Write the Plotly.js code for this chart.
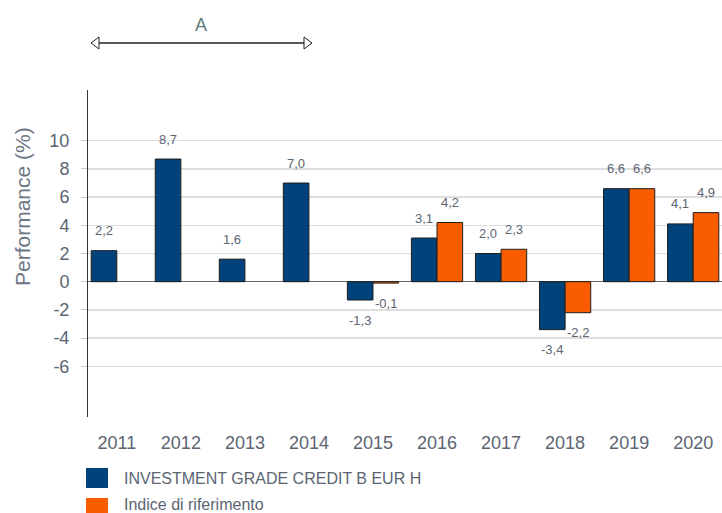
<!DOCTYPE html>
<html>
<head>
<meta charset="utf-8">
<script src="https://cdn.plot.ly/plotly-3.0.1.min.js"></script>
<style>html,body{margin:0;padding:0;background:#fff;}#chart{width:722px;height:513px;}</style>
</head>
<body>
<div id="chart"></div>
<script>
const years = ['2011','2012','2013','2014','2015','2016','2017','2018','2019','2020'];
const fundValues = [2.2, 8.7, 1.6, 7.0, -1.3, 3.1, 2.0, -3.4, 6.6, 4.1];
const benchValues = [null, null, null, null, -0.1, 4.2, 2.3, -2.2, 6.6, 4.9];
const seriesNames = ['INVESTMENT GRADE CREDIT B EUR H', 'Indice di riferimento'];
const seriesColors = ['#00427a', '#fa5c00'];
const yTicks = [-6, -4, -2, 0, 2, 4, 6, 8, 10];

const W = 722, H = 513;
const M = {l: 88, r: 0, t: 90, b: 96};
const pw = W - M.l - M.r, ph = H - M.t - M.b;
const px2x = p => (p - M.l) / pw;
const px2y = p => (H - M.b - p) / ph;

const FONT = 'Liberation Sans, Arial, sans-serif';
const TXT = '#5b6572';
const fmt = v => v.toFixed(1).replace('.', ',');
const labelFont = {family: FONT, size: 13, color: TXT};

const traces = [
  {type: 'bar', x: years, y: fundValues, name: seriesNames[0],
   marker: {color: seriesColors[0], line: {color: '#1e1e1e', width: 1}}, showlegend: false},
  {type: 'bar', x: years, y: benchValues, name: seriesNames[1],
   marker: {color: seriesColors[1], line: {color: '#1e1e1e', width: 1}}, showlegend: false}
];

const annotations = [];
[fundValues, benchValues].forEach((arr, s) => {
  arr.forEach((v, i) => {
    if (v === null) return;
    annotations.push({
      x: i + (s === 0 ? -0.2 : 0.2), y: v, xref: 'x', yref: 'y',
      text: fmt(v), showarrow: false, font: labelFont,
      yshift: v >= 0 ? 20 : -20
    });
  });
});

// Y axis title
annotations.push({x: px2x(22), y: px2y(207), xref: 'paper', yref: 'paper', xanchor: 'center', yanchor: 'middle',
  text: 'Performance (%)', textangle: -90, showarrow: false, font: {family: FONT, size: 21, color: '#6b7583'}});

// Top "A" marker
annotations.push({x: px2x(201), y: px2y(25), xref: 'paper', yref: 'paper', xanchor: 'center', yanchor: 'middle',
  text: 'A', showarrow: false, font: {family: FONT, size: 18, color: '#5f7c78'}});

// Legend (custom, larger swatches)
const legY = [478, 505];
seriesNames.forEach((n, k) => {
  annotations.push({x: px2x(122), y: px2y(legY[k]), xref: 'paper', yref: 'paper', xanchor: 'left', yanchor: 'middle',
    text: n, showarrow: false, font: {family: FONT, size: 16, color: TXT}});
});

const shapes = [];
// double arrow
const ay = px2y(43);
shapes.push({type: 'line', xref: 'paper', yref: 'paper', x0: px2x(99), x1: px2x(304), y0: ay, y1: ay,
  line: {color: '#222', width: 1.5}});
const tri = (tip, base) => `M${px2x(tip)},${ay} L${px2x(base)},${px2y(37)} L${px2x(base)},${px2y(49)} Z`;
shapes.push({type: 'path', xref: 'paper', yref: 'paper', path: tri(91, 99), fillcolor: '#fff', line: {color: '#222', width: 1}});
shapes.push({type: 'path', xref: 'paper', yref: 'paper', path: tri(312, 304), fillcolor: '#fff', line: {color: '#222', width: 1}});
// legend swatches
const sw = [[468, 488], [498, 518]];
seriesColors.forEach((c, k) => {
  shapes.push({type: 'rect', xref: 'paper', yref: 'paper', x0: px2x(86), x1: px2x(108), y0: px2y(sw[k][1]), y1: px2y(sw[k][0]),
    fillcolor: c, line: {width: 0}});
});

const layout = {
  width: W, height: H,
  margin: M,
  paper_bgcolor: '#fff', plot_bgcolor: '#fff',
  font: {family: FONT, color: TXT},
  barmode: 'group', bargap: 0.2, bargroupgap: 0,
  showlegend: false,
  xaxis: {type: 'category', range: [-0.45, 9.45], showgrid: false, zeroline: false, showline: false,
    ticks: 'outside', ticklen: 9, tickcolor: 'rgba(0,0,0,0)',
    tickfont: {size: 18, color: TXT}, fixedrange: true},
  yaxis: {range: [-9.6, 13.6], tickvals: yTicks, ticktext: yTicks.map(String),
    showgrid: true, gridcolor: '#dedede', gridwidth: 1.5,
    zeroline: true, zerolinecolor: '#666', zerolinewidth: 1.5,
    showline: true, linecolor: '#333', linewidth: 1,
    ticks: 'outside', ticklen: 6, tickcolor: '#c8c8c8', tickwidth: 1,
    ticklabelstandoff: 8,
    tickfont: {size: 18, color: TXT},
    automargin: false, fixedrange: true},
  annotations: annotations,
  shapes: shapes
};

Plotly.newPlot('chart', traces, layout, {displayModeBar: false, staticPlot: true});
</script>
</body>
</html>
